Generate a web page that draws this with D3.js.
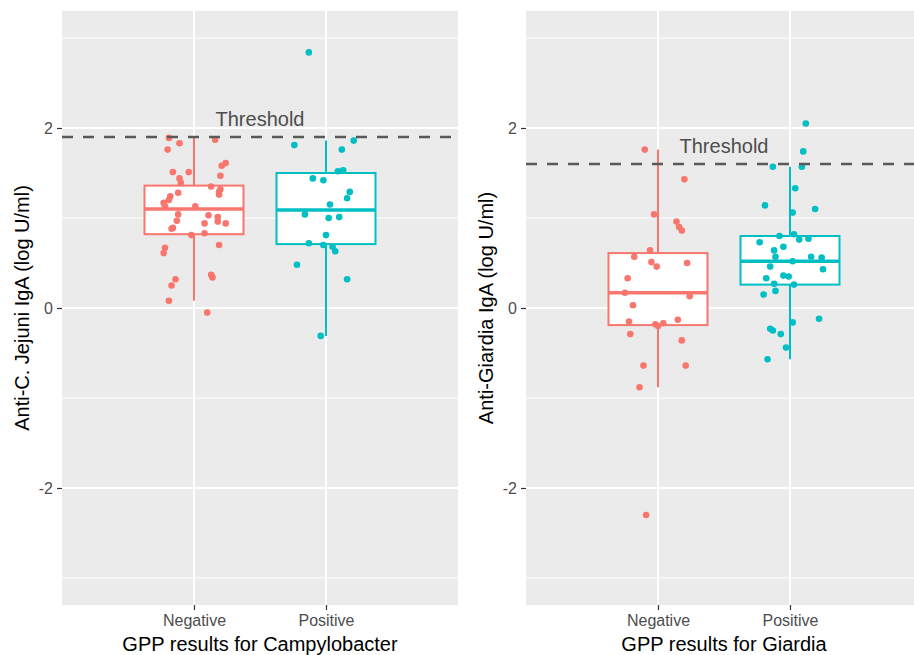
<!DOCTYPE html>
<html>
<head>
<meta charset="utf-8">
<script src="https://cdn.jsdelivr.net/npm/d3@7"></script>
<style>
  body { margin: 0; background: #fff; }
  svg { display: block; font-family: "Liberation Sans", Arial, sans-serif; }
</style>
</head>
<body>
<svg id="chart" width="914" height="655"></svg>
<script>
// ---------- data ----------
const categories = ["Negative", "Positive"];
const xTitles = ["GPP results for Campylobacter", "GPP results for Giardia"];
const yTitles = ["Anti-C. Jejuni IgA (log U/ml)", "Anti-Giardia IgA (log U/ml)"];
const thresholds = [1.9, 1.6];
const thresholdLabel = "Threshold";
const yTicks = [-2, 0, 2];
const yTickLabels = ["-2", "0", "2"];
const yMinorTicks = [-3, -1, 1, 3];
const yDomain = [-3.3, 3.3];

// box stats: [lower whisker, Q1, median, Q3, upper whisker]
const campyNegBox = [0.08, 0.82, 1.10, 1.36, 1.89];
const campyPosBox = [-0.31, 0.71, 1.09, 1.50, 1.86];
const giardiaNegBox = [-0.88, -0.19, 0.17, 0.61, 1.76];
const giardiaPosBox = [-0.57, 0.26, 0.52, 0.80, 1.57];

// jittered points: values and horizontal jitter (fraction of category step)
const campyNegValues = [1.89, 1.83, 1.87, 1.76, 1.61, 1.58, 1.51, 1.51, 1.44, 1.47, 1.39, 1.35, 1.32, 1.29, 1.26, 1.28, 1.24, 1.20, 1.17, 1.13, 1.13, 1.04, 1.03, 1.01, 0.97, 0.96, 0.94, 0.94, 0.89, 0.88, 0.83, 0.81, 0.70, 0.67, 0.61, 0.37, 0.34, 0.32, 0.25, 0.08, -0.05];
const campyNegJitter = [-0.19, -0.11, 0.16, -0.20, 0.24, 0.21, -0.16, -0.04, -0.11, 0.20, -0.10, 0.13, 0.20, 0.19, 0.19, -0.12, -0.18, -0.19, -0.23, -0.22, 0.01, -0.12, 0.11, 0.18, -0.13, 0.18, 0.24, 0.08, -0.16, -0.17, 0.08, -0.02, 0.19, -0.22, -0.23, 0.13, 0.14, -0.14, -0.17, -0.19, 0.10];

const campyPosValues = [2.84, 1.81, 1.86, 1.76, 1.52, 1.53, 1.44, 1.42, 1.29, 1.22, 1.15, 1.04, 1.00, 1.01, 0.81, 0.72, 0.70, 0.68, 0.63, 0.48, 0.32, -0.31];
const campyPosJitter = [-0.13, -0.24, 0.21, 0.12, 0.09, 0.13, -0.10, -0.02, 0.18, 0.16, 0.03, -0.16, 0.02, 0.10, 0.00, -0.13, -0.02, 0.05, 0.07, -0.22, 0.16, -0.04];

const giardiaNegValues = [1.76, 1.43, 1.04, 0.96, 0.90, 0.86, 0.64, 0.57, 0.51, 0.46, 0.50, 0.33, 0.17, 0.13, 0.03, -0.15, -0.18, -0.20, -0.17, -0.13, -0.29, -0.36, -0.64, -0.64, -0.88, -2.30];
const giardiaNegJitter = [-0.10, 0.20, -0.03, 0.14, 0.16, 0.18, -0.06, -0.18, -0.05, -0.01, 0.22, -0.23, -0.25, 0.24, -0.19, -0.22, -0.02, 0.00, 0.04, 0.15, -0.21, 0.18, -0.11, 0.21, -0.14, -0.09];

const giardiaPosValues = [2.05, 1.74, 1.57, 1.57, 1.33, 1.14, 1.10, 1.06, 0.80, 0.82, 0.76, 0.77, 0.73, 0.68, 0.64, 0.57, 0.57, 0.56, 0.52, 0.46, 0.43, 0.36, 0.35, 0.33, 0.27, 0.26, 0.19, 0.15, -0.12, -0.16, -0.23, -0.25, -0.29, -0.44, -0.57];
const giardiaPosJitter = [0.12, 0.10, -0.13, 0.09, 0.04, -0.19, 0.19, 0.02, -0.08, 0.03, 0.07, 0.14, -0.23, -0.05, -0.12, -0.11, 0.16, 0.24, 0.02, -0.15, 0.25, -0.05, -0.01, -0.18, -0.12, 0.03, -0.11, -0.20, 0.22, 0.02, -0.15, -0.13, -0.07, -0.03, -0.17];

const colors = ["#F8766D", "#00BFC4"];

// ---------- panels ----------
const panelsData = [
  { xTitle: xTitles[0], yTitle: yTitles[0], threshold: thresholds[0],
    boxes: [campyNegBox, campyPosBox],
    values: [campyNegValues, campyPosValues], jitter: [campyNegJitter, campyPosJitter] },
  { xTitle: xTitles[1], yTitle: yTitles[1], threshold: thresholds[1],
    boxes: [giardiaNegBox, giardiaPosBox],
    values: [giardiaNegValues, giardiaPosValues], jitter: [giardiaNegJitter, giardiaPosJitter] }
];

const layout = { lefts: [62, 526], width: 396, top: 11, bottom: 605, titleX: [29, 493] };

const svg = d3.select("#chart");
const y = d3.scaleLinear().domain(yDomain).range([layout.bottom, layout.top]);

panelsData.forEach((p, i) => {
  const left = layout.lefts[i];
  const right = left + layout.width;
  const x = d3.scalePoint().domain(categories).range([left, right]).padding(1);
  const step = x.step();
  const boxW = step * 0.75;
  const g = svg.append("g");

  // panel background
  g.append("rect").attr("x", left).attr("y", layout.top)
    .attr("width", layout.width).attr("height", layout.bottom - layout.top)
    .attr("fill", "#EBEBEB");

  // grid
  g.selectAll(".minor").data(yMinorTicks).enter().append("line")
    .attr("x1", left).attr("x2", right)
    .attr("y1", d => y(d)).attr("y2", d => y(d))
    .attr("stroke", "#fff").attr("stroke-width", 1);
  g.selectAll(".major").data(yTicks).enter().append("line")
    .attr("x1", left).attr("x2", right)
    .attr("y1", d => y(d)).attr("y2", d => y(d))
    .attr("stroke", "#fff").attr("stroke-width", 2);
  g.selectAll(".vmajor").data(categories).enter().append("line")
    .attr("x1", d => x(d)).attr("x2", d => x(d))
    .attr("y1", layout.top).attr("y2", layout.bottom)
    .attr("stroke", "#fff").attr("stroke-width", 2);

  // boxplots
  categories.forEach((c, k) => {
    const b = p.boxes[k];
    const cx = x(c);
    const col = colors[k];
    g.append("line").attr("x1", cx).attr("x2", cx)
      .attr("y1", y(b[3])).attr("y2", y(b[4]))
      .attr("stroke", col).attr("stroke-width", 2);
    g.append("line").attr("x1", cx).attr("x2", cx)
      .attr("y1", y(b[1])).attr("y2", y(b[0]))
      .attr("stroke", col).attr("stroke-width", 2);
    g.append("rect").attr("x", cx - boxW / 2).attr("y", y(b[3]))
      .attr("width", boxW).attr("height", y(b[1]) - y(b[3]))
      .attr("fill", "#fff").attr("stroke", col).attr("stroke-width", 2);
    g.append("line").attr("x1", cx - boxW / 2).attr("x2", cx + boxW / 2)
      .attr("y1", y(b[2])).attr("y2", y(b[2]))
      .attr("stroke", col).attr("stroke-width", 3.5);
  });

  // points
  categories.forEach((c, k) => {
    const pts = p.values[k].map((v, j) => ({ v, j: p.jitter[k][j] }));
    g.selectAll(null).data(pts).enter().append("circle")
      .attr("cx", d => x(c) + d.j * step)
      .attr("cy", d => y(d.v))
      .attr("r", 3.3)
      .attr("fill", colors[k]);
  });

  // threshold
  g.append("line").attr("x1", left).attr("x2", right)
    .attr("y1", y(p.threshold)).attr("y2", y(p.threshold))
    .attr("stroke", "#595959").attr("stroke-width", 2.6)
    .attr("stroke-dasharray", "11,10");
  g.append("text")
    .attr("x", left + layout.width / 2).attr("y", y(p.threshold + 0.2))
    .attr("text-anchor", "middle").attr("dominant-baseline", "central")
    .attr("font-size", 20).attr("fill", "#4D4D4D")
    .text(thresholdLabel);

  // axes
  const ya = g.append("g").attr("transform", `translate(${left},0)`)
    .call(d3.axisLeft(y).tickValues(yTicks).tickSize(5).tickPadding(4)
      .tickFormat(d => yTickLabels[yTicks.indexOf(d)]));
  ya.select(".domain").remove();
  ya.selectAll(".tick line").attr("stroke", "#333").attr("stroke-width", 1.2);
  ya.selectAll(".tick text").attr("font-size", 16).attr("fill", "#4D4D4D")
    .attr("font-family", "Liberation Sans, Arial, sans-serif");

  const xa = g.append("g").attr("transform", `translate(0,${layout.bottom})`)
    .call(d3.axisBottom(x).tickSize(5).tickPadding(5));
  xa.select(".domain").remove();
  xa.selectAll(".tick line").attr("stroke", "#333").attr("stroke-width", 1.2);
  xa.selectAll(".tick text").attr("font-size", 16).attr("fill", "#4D4D4D")
    .attr("font-family", "Liberation Sans, Arial, sans-serif");

  // titles
  g.append("text").attr("x", left + layout.width / 2).attr("y", 651)
    .attr("text-anchor", "middle").attr("font-size", 20).attr("fill", "#000")
    .text(p.xTitle);
  const ty = (layout.top + layout.bottom) / 2;
  g.append("text")
    .attr("transform", `translate(${layout.titleX[i]},${ty}) rotate(-90)`)
    .attr("text-anchor", "middle").attr("font-size", 20).attr("fill", "#000")
    .text(p.yTitle);
});
</script>
</body>
</html>
